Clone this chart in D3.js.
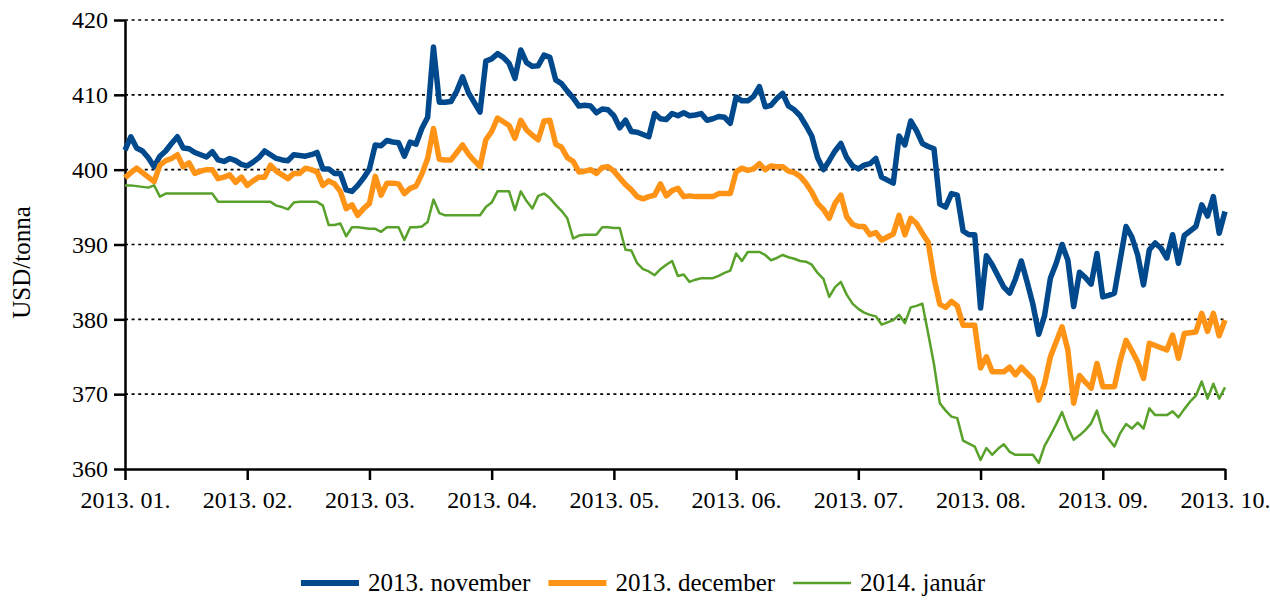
<!DOCTYPE html>
<html>
<head>
<meta charset="utf-8">
<script src="https://cdn.jsdelivr.net/npm/d3@7"></script>
<style>
  html, body { margin: 0; padding: 0; background: #fff; }
  svg { display: block; }
  text { font-family: "Liberation Serif", "Times New Roman", serif; fill: #000; }
</style>
</head>
<body>
<svg id="chart" width="1270" height="600"></svg>
<script>
// Month tick labels (one label every 21 trading days)
const monthLabels = ["2013. 01.", "2013. 02.", "2013. 03.", "2013. 04.", "2013. 05.",
                     "2013. 06.", "2013. 07.", "2013. 08.", "2013. 09.", "2013. 10."];
const daysPerMonthTick = 21;

// Y axis ticks (USD/tonna)
const yTicks = [360, 370, 380, 390, 400, 410, 420];

// Series names
const seriesNames = ["2013. november", "2013. december", "2014. január"];

// Daily closing prices, USD/tonna, one value per trading day
const nov2013 = [
  402.6, 404.4, 402.9, 402.5, 401.6, 400.4, 401.8, 402.5, 403.5, 404.4,
  402.9, 402.8, 402.3, 402.0, 401.7, 402.4, 401.3, 401.1, 401.5, 401.2,
  400.7, 400.5, 401.0, 401.6, 402.5, 402.0, 401.5, 401.3, 401.2, 402.0,
  401.9, 401.8, 402.0, 402.3, 400.1, 400.1, 399.5, 399.5, 397.3, 397.1,
  397.9, 398.9, 400.1, 403.3, 403.2, 403.9, 403.7, 403.6, 401.8, 403.7,
  403.4, 405.5, 407.0, 416.4, 409.0, 409.0, 409.1, 410.5, 412.4, 410.3,
  409.0, 407.7, 414.5, 414.8, 415.5, 415.0, 414.2, 412.2, 416.0, 414.3,
  413.8, 413.9, 415.3, 415.0, 412.0, 411.5, 410.5, 409.6, 408.5, 408.6,
  408.5, 407.6, 408.1, 408.0, 407.2, 405.6, 406.6, 405.1, 405.0, 404.7,
  404.4, 407.5, 406.8, 406.7, 407.5, 407.2, 407.6, 407.2, 407.3, 407.5,
  406.6, 406.8, 407.1, 407.0, 406.2, 409.7, 409.2, 409.2, 409.8, 411.1,
  408.4, 408.6, 409.5, 410.2, 408.5, 408.0, 407.2, 405.9, 404.5, 401.6,
  400.0, 401.2, 402.5, 403.5, 401.6, 400.5, 400.1, 400.6, 400.8, 401.5,
  399.0, 398.6, 398.2, 404.5, 403.3, 406.5, 405.2, 403.5, 403.1, 402.8,
  395.4, 395.0, 396.8, 396.6, 391.8, 391.3, 391.3, 381.5, 388.5, 387.3,
  385.8, 384.3, 383.5, 385.4, 387.8, 385.0, 382.0, 378.0, 380.5, 385.5,
  387.5, 390.0, 387.9, 381.7, 386.3, 385.6, 384.7, 388.8, 383.0, 383.2,
  383.5, 388.0, 392.4, 391.0, 388.6, 384.6, 389.3, 390.2, 389.5, 388.2,
  391.3, 387.5, 391.2, 391.8, 392.4, 395.3, 393.8, 396.4, 391.5, 394.4
];

const dec2013 = [
  398.9, 399.6, 400.2, 399.6, 399.0, 398.4, 400.6, 401.2, 401.5, 402.0,
  400.4, 400.9, 399.5, 399.8, 400.0, 400.0, 398.8, 399.0, 399.3, 398.3,
  399.0, 397.9, 398.5, 399.0, 399.0, 400.6, 399.8, 399.3, 398.8, 399.5,
  399.5, 400.2, 400.0, 399.7, 397.9, 398.5, 398.1, 397.1, 394.8, 395.3,
  393.9, 394.8, 395.5, 399.1, 396.6, 398.2, 398.2, 398.1, 396.8, 397.5,
  397.8, 399.4, 401.5, 405.5, 401.4, 401.3, 401.3, 402.3, 403.3, 402.1,
  401.2, 400.4, 404.0, 405.1, 406.9, 406.4, 405.9, 404.2, 406.6, 405.3,
  404.6, 404.0, 406.5, 406.6, 403.4, 403.0, 401.6, 401.1, 399.7, 399.8,
  400.0, 399.5, 400.3, 400.4, 399.8, 398.9, 398.0, 397.3, 396.4, 396.1,
  396.4, 396.6, 398.1, 396.5, 397.2, 397.5, 396.4, 396.5, 396.4, 396.4,
  396.4, 396.4, 396.8, 396.8, 396.8, 399.7, 400.2, 399.9, 400.1, 400.8,
  400.0, 400.5, 400.4, 400.4, 399.8, 399.6, 399.1, 398.2, 397.0, 395.5,
  394.7, 393.5, 395.5, 396.6, 393.7, 392.7, 392.4, 392.4, 391.3, 391.6,
  390.6, 391.0, 391.4, 393.9, 391.3, 393.5, 392.8, 391.5, 390.3, 385.5,
  382.0, 381.6, 382.4, 381.8, 379.2, 379.2, 379.2, 373.5, 375.0, 373.0,
  373.0, 373.0, 373.6, 372.6, 373.6, 372.8, 372.0, 369.2, 371.4, 375.0,
  377.0, 379.0, 375.9, 368.8, 372.5, 371.6, 370.8, 374.1, 371.0, 371.0,
  371.0, 374.5, 377.2, 375.8, 374.3, 372.1, 376.8, 376.5, 376.2, 375.9,
  377.9, 374.8, 378.1, 378.2, 378.3, 380.8, 378.4, 380.8, 377.8, 379.9
];

const jan2014 = [
  397.9, 397.9, 397.8, 397.7, 397.6, 397.9, 396.4, 396.8, 396.8, 396.8,
  396.8, 396.8, 396.8, 396.8, 396.8, 396.8, 395.7, 395.7, 395.7, 395.7,
  395.7, 395.7, 395.7, 395.7, 395.7, 395.7, 395.2, 395.0, 394.7, 395.6,
  395.7, 395.7, 395.7, 395.7, 395.2, 392.6, 392.6, 392.8, 391.1, 392.3,
  392.3, 392.2, 392.1, 392.1, 391.7, 392.3, 392.3, 392.3, 390.6, 392.3,
  392.3, 392.4, 393.0, 396.0, 394.2, 393.9, 393.9, 393.9, 393.9, 393.9,
  393.9, 393.9, 395.0, 395.6, 397.1, 397.1, 397.1, 394.6, 397.1, 395.8,
  394.8, 396.5, 396.8, 396.2, 395.3, 394.5, 393.5, 390.8, 391.2, 391.3,
  391.3, 391.3, 392.3, 392.3, 392.2, 392.2, 389.3, 389.2, 387.5, 386.7,
  386.4, 385.9, 386.7, 387.3, 387.8, 385.8, 386.0, 385.0, 385.3, 385.5,
  385.5, 385.5, 385.8, 386.2, 386.5, 388.8, 387.8, 389.0, 389.0, 389.0,
  388.6, 387.9, 388.2, 388.6, 388.3, 388.1, 387.8, 387.7, 387.3, 386.2,
  385.4, 383.0, 384.3, 385.0, 383.3, 382.1, 381.4, 380.9, 380.6, 380.4,
  379.3, 379.6, 379.9, 380.6, 379.5, 381.6, 381.8, 382.1, 378.1, 374.0,
  368.8, 367.8, 367.0, 366.8, 363.8, 363.4, 363.0, 361.2, 362.8, 361.9,
  362.7, 363.3, 362.3, 361.9, 361.9, 361.9, 361.9, 360.8, 363.1, 364.5,
  366.0, 367.6, 365.5, 363.9, 364.5, 365.2, 366.1, 367.8, 365.0, 364.0,
  363.0, 364.8, 366.0, 365.4, 366.2, 365.4, 368.1, 367.2, 367.2, 367.2,
  367.7, 366.9, 368.0, 369.0, 369.8, 371.7, 369.4, 371.4, 369.4, 370.9
];

const seriesValues = [nov2013, dec2013, jan2014];
const seriesColors = ["#00498d", "#ff9315", "#58a12b"];
const seriesWidths = [5.5, 5.5, 2.5];

const svg = d3.select("#chart");
const plot = { left: 125, right: 1225, top: 20, bottom: 469 };

const x = d3.scaleLinear()
  .domain([0, nov2013.length - 1])
  .range([plot.left, plot.right]);

const y = d3.scaleLinear()
  .domain([d3.min(yTicks), d3.max(yTicks)])
  .range([plot.bottom, plot.top]);

const fontSize = 24;
const serif = '"Liberation Serif", "Times New Roman", serif';

// Dotted horizontal gridlines
svg.append("g")
  .selectAll("line")
  .data(yTicks.filter(v => v > d3.min(yTicks)))
  .join("line")
  .attr("x1", plot.left)
  .attr("x2", plot.right + 2)
  .attr("y1", d => y(d))
  .attr("y2", d => y(d))
  .attr("stroke", "#000")
  .attr("stroke-width", 1.6)
  .attr("stroke-dasharray", "3,3.6");

// Y axis
const yAxis = d3.axisLeft(y).tickValues(yTicks).tickSize(11).tickSizeOuter(0).tickPadding(6);
const gy = svg.append("g")
  .attr("transform", `translate(${plot.left},0)`)
  .call(yAxis);
gy.select(".domain").attr("stroke", "#000").attr("stroke-width", 2.5);
gy.selectAll(".tick line").attr("stroke", "#000").attr("stroke-width", 2.5);
gy.selectAll(".tick text")
  .style("font-family", serif)
  .style("font-size", fontSize + "px")
  .attr("fill", "#000");

// X axis: a tick every 21 trading days, labelled by month
const xTickIdx = monthLabels.map((_, i) => i * daysPerMonthTick);
const xAxis = d3.axisBottom(x)
  .tickValues(xTickIdx)
  .tickFormat((d, i) => monthLabels[i])
  .tickSize(11)
  .tickSizeOuter(0)
  .tickPadding(11);
const gx = svg.append("g")
  .attr("transform", `translate(0,${plot.bottom})`)
  .call(xAxis);
gx.select(".domain").attr("stroke", "#000").attr("stroke-width", 2.5);
gx.selectAll(".tick line").attr("stroke", "#000").attr("stroke-width", 2.5);
gx.selectAll(".tick text")
  .style("font-family", serif)
  .style("font-size", fontSize + "px")
  .attr("fill", "#000");

// Y axis title
svg.append("text")
  .attr("transform", `translate(30,${(plot.top + plot.bottom) / 2 + 18}) rotate(-90)`)
  .attr("text-anchor", "middle")
  .style("font-size", "25px")
  .text("USD/tonna");

// Price lines
const line = d3.line()
  .x((d, i) => x(i))
  .y(d => y(d));

svg.append("g")
  .selectAll("path")
  .data(seriesValues)
  .join("path")
  .attr("d", d => line(d))
  .attr("fill", "none")
  .attr("stroke", (d, i) => seriesColors[i])
  .attr("stroke-width", (d, i) => seriesWidths[i])
  .attr("stroke-linejoin", "round")
  .attr("stroke-linecap", "butt");

// Legend
const legendFont = 25;
const legend = svg.append("g").attr("transform", "translate(0,583)");
const items = legend.selectAll("g")
  .data(seriesNames)
  .join("g");
items.append("line")
  .attr("x1", 0).attr("x2", 58)
  .attr("y1", 0).attr("y2", 0)
  .attr("stroke", (d, i) => seriesColors[i])
  .attr("stroke-width", (d, i) => i < 2 ? 6 : 2.5);
items.append("text")
  .attr("x", 67)
  .attr("dy", "0.33em")
  .style("font-size", legendFont + "px")
  .text(d => d);

const widths = [];
items.each(function () {
  widths.push(67 + this.querySelector("text").getComputedTextLength());
});
const gap = 18;
const total = d3.sum(widths) + gap * (widths.length - 1);
let cursor = 643 - total / 2;
items.attr("transform", (d, i) => {
  const t = `translate(${cursor},0)`;
  cursor += widths[i] + gap;
  return t;
});
</script>
</body>
</html>
